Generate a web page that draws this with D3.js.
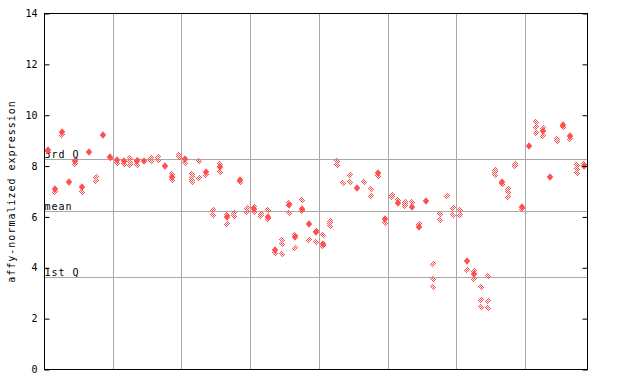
<!DOCTYPE html>
<html><head><meta charset="utf-8">
<script src="https://cdn.jsdelivr.net/npm/d3@7"></script>
<style>body{margin:0;background:#fff}svg{display:block}</style>
</head><body><svg id="c" width="640" height="384"></svg>
<script>
const sampleCount = 79;
const filledValues = [8.65,7.11,9.33,7.36,8.19,7.19,8.56,null,9.23,8.35,
  8.23,8.2,null,8.18,8.18,null,null,8.01,7.58,null,
  8.27,null,null,7.75,null,7.97,5.99,null,7.47,null,
  6.3,null,6.01,4.68,null,6.46,5.2,6.31,5.74,5.4,
  4.93,null,null,null,null,7.12,null,null,7.72,5.93,
  null,6.53,null,6.41,5.6,6.64,null,null,null,null,
  null,4.25,3.76,null,null,null,7.39,null,null,6.41,
  8.8,null,9.39,7.58,null,9.61,9.19,null,8.01];
const replicateValues = [[8.56],[6.99],[9.24],[],[8.08],[6.99],[],[7.58,7.42],[],[8.3],
  [8.13],[8.08],[8.3,8.17,8.04],[8.24,8.05],[],[8.3,8.18],[8.37,8.25],[],[7.7,7.45],[8.43,8.34],
  [8.14],[7.7,7.58,7.47,7.37],[8.2,7.55],[7.65],[6.27,6.07],[8.1,7.78],[6.08,5.73],[6.14,6.04],[7.36],[6.34,6.21],
  [6.41,6.21],[6.12,6.04],[6.27,5.9],[4.57],[5.1,4.94,4.54],[6.54,6.17],[5.27,4.77],[6.67,6.25],[5.1],[5.46,5.0],
  [5.28,4.84],[5.84,5.75,5.66],[8.2,8.03],[7.32],[7.65,7.36],[],[7.37],[7.1,6.82],[7.6],[5.75],
  [6.86,6.77],[6.66],[6.6,6.5,6.43],[6.59],[5.72],[],[4.14,3.55,3.25],[6.12,5.88],[6.82],[6.34,6.07],
  [6.27,6.07],[3.9],[3.87,3.56],[3.24,2.73,2.47],[3.67,2.69,2.42],[7.84,7.75,7.66],[7.28],[7.11,6.99,6.77],[8.08,7.99],[6.3],
  [],[9.73,9.52,9.31],[9.48,9.18],[],[9.07,8.98],[9.52],[9.07],[8.04,7.88,7.71],[8.1]];
const yTicks = [0,2,4,6,8,10,12,14];
const refLabels = ["3rd Q","mean","1st Q"];
const refValues = [8.24,6.22,3.63];
const groupBoundaries = [10,20,30,40,50,60,70];
const yLabel = "affy-normalized expression";

const L = 44.5, R = 587.5, T = 13.5, B = 369.5;
const red = "#ff4f4f", grid = "#a8a8a8";
const font = "'DejaVu Sans Mono', monospace";
const svg = d3.select("#c");
const x = d3.scaleLinear().domain([0, sampleCount]).range([L, R]);
const y = d3.scaleLinear().domain([0, 14]).range([B, T]);
const snap = v => Math.floor(v) + 0.5;

const defs = svg.append("defs");
const pat = defs.append("pattern").attr("id","chk").attr("patternUnits","userSpaceOnUse")
  .attr("width",2).attr("height",2);
pat.append("rect").attr("x",0).attr("y",0).attr("width",1).attr("height",1).attr("fill",red);
pat.append("rect").attr("x",1).attr("y",1).attr("width",1).attr("height",1).attr("fill",red);

// grid
svg.append("g").selectAll("line").data(groupBoundaries).join("line")
  .attr("x1", d => snap(x(d))).attr("x2", d => snap(x(d)))
  .attr("y1", T).attr("y2", B).attr("stroke", grid).attr("stroke-width",1);
svg.append("g").selectAll("line").data(refValues).join("line")
  .attr("x1", L).attr("x2", R)
  .attr("y1", d => snap(y(d))).attr("y2", d => snap(y(d)))
  .attr("stroke", grid).attr("stroke-width",1);
svg.append("g").selectAll("text").data(refValues).join("text")
  .attr("x", L).attr("y", d => snap(y(d)) - 1.5)
  .attr("font-family", font).attr("font-size", 10).attr("letter-spacing", 1)
  .attr("fill", "#000").text((d,i) => refLabels[i]);

// points
const hollow = [];
replicateValues.forEach((arr, i) => arr.forEach(v => hollow.push({i, v})));
const filled = [];
filledValues.forEach((v, i) => { if (v !== null) filled.push({i, v}); });

const diamond = (cx, cy, hw, hh) => `M${cx},${cy-hh}L${cx+hw},${cy}L${cx},${cy+hh}L${cx-hw},${cy}Z`;
svg.append("g").selectAll("path").data(hollow).join("path")
  .attr("d", d => diamond(Math.round(x(d.i + 0.5)), Math.round(y(d.v)), 3.5, 3.5))
  .attr("fill", "url(#chk)").attr("shape-rendering","crispEdges");
svg.append("g").selectAll("path").data(filled).join("path")
  .attr("d", d => diamond(Math.round(x(d.i + 0.5)), Math.round(y(d.v)), 3.2, 3.8))
  .attr("fill", red);

// axes
const ax = svg.append("g").attr("transform", `translate(${L},0)`)
  .call(d3.axisLeft(y).tickValues(yTicks).tickSizeInner(-5).tickSizeOuter(0).tickPadding(7));
ax.select(".domain").remove();
ax.selectAll("line").attr("stroke","#000");
ax.selectAll("text").attr("font-family", font).attr("font-size", 10).attr("fill","#000");
ax.attr("font-family", font);
const axr = svg.append("g").attr("transform", `translate(${R},0)`)
  .call(d3.axisRight(y).tickValues(yTicks).tickSizeInner(-5).tickSizeOuter(0).tickFormat(""));
axr.select(".domain").remove();
axr.selectAll("line").attr("stroke","#000");

svg.append("rect").attr("x", L).attr("y", T).attr("width", R - L).attr("height", B - T)
  .attr("fill","none").attr("stroke","#000").attr("stroke-width",1);

svg.append("text").attr("transform", `translate(15,${(T+B)/2}) rotate(-90)`)
  .attr("text-anchor","middle").attr("font-family", font).attr("font-size", 10)
  .attr("letter-spacing", 1).attr("fill","#000").text(yLabel);
</script></body></html>
